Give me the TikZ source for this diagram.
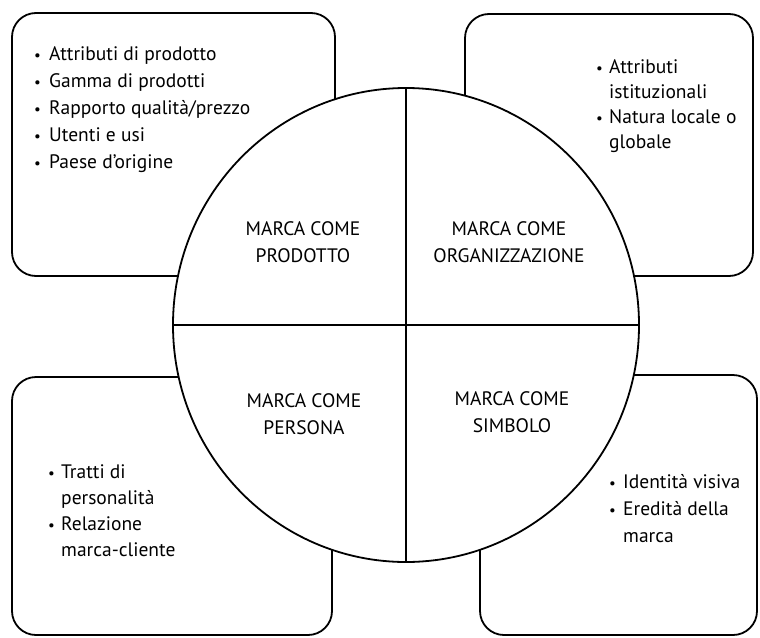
\documentclass[tikz,border=0pt]{standalone}
\usepackage{fontspec}
\setmainfont{PT Sans}
\usetikzlibrary{shapes.geometric}
\begin{document}
\begin{tikzpicture}[x=1pt,y=-1pt,
  box/.style={draw, line width=1.8pt, rounded corners=24pt, inner sep=0pt, outer sep=0pt},
  disc/.style={draw, line width=1.8pt, ellipse, fill=white, inner sep=0pt},
  divider/.style={line width=1.8pt},
  quad/.style={inner sep=0pt, anchor=base, font=\fontsize{19.5}{27}\selectfont},
  list/.style={inner sep=0pt, anchor=base west, font=\fontsize{19.5}{27}\selectfont},
  dot/.style={inner sep=0pt, anchor=base west, font=\fontsize{15}{15}\selectfont}
]
\useasboundingbox (0,0) rectangle (760,637);
% outer boxes
\node[box, minimum width=323pt, minimum height=263pt] (tl) at (173.5,144.5) {};
\node[box, minimum width=288pt, minimum height=262pt] (tr) at (609,145) {};
\node[box, minimum width=320pt, minimum height=258pt] (bl) at (172,506) {};
\node[box, minimum width=277pt, minimum height=260pt] (br) at (618.5,505) {};
% circle
\node[disc, minimum width=466pt, minimum height=474pt] (c) at (406,325) {};
\draw[divider] (c.north) -- (c.south);
\draw[divider] (c.west) -- (c.east);
% quadrant labels
\node[quad] (qp) at (303,235) {\begin{tabular}[t]{@{}c@{}}MARCA COME\\PRODOTTO\end{tabular}};
\node[quad] (qo) at (509,235) {\begin{tabular}[t]{@{}c@{}}MARCA COME\\ORGANIZZAZIONE\end{tabular}};
\node[quad] (qpe) at (304,407) {\begin{tabular}[t]{@{}c@{}}MARCA COME\\PERSONA\end{tabular}};
\node[quad] (qs) at (512,405) {\begin{tabular}[t]{@{}c@{}}MARCA COME\\SIMBOLO\end{tabular}};
% top-left list
\node[list] (ltl) at (49,60) {\begin{tabular}[t]{@{}l@{}}
Attributi di prodotto\\
Gamma di prodotti\\
Rapporto qualità/prezzo\\
Utenti e usi\\
Paese d’origine
\end{tabular}};
\foreach \i in {0,...,4} \node[dot] (dtl\i) at (34,{60+27*\i}) {•};
% top-right list
\node[list, font=\fontsize{19.5}{25}\selectfont] (ltr) at (609,73) {\begin{tabular}[t]{@{}l@{}}
Attributi\\
istituzionali\\
Natura locale o\\
globale
\end{tabular}};
\node[dot] (dtr0) at (596,73) {•};
\node[dot] (dtr1) at (596,123) {•};
% bottom-left list
\node[list, font=\fontsize{19.5}{26.3}\selectfont] (lbl) at (61,478) {\begin{tabular}[t]{@{}l@{}}
Tratti di\\
personalità\\
Relazione\\
marca-cliente
\end{tabular}};
\node[dot] (dbl0) at (48,478) {•};
\node[dot] (dbl1) at (48,530.6) {•};
% bottom-right list
\node[list] (lbr) at (623,488) {\begin{tabular}[t]{@{}l@{}}
Identità visiva\\
Eredità della\\
marca
\end{tabular}};
\node[dot] (dbr0) at (609,488) {•};
\node[dot] (dbr1) at (609,515) {•};
\end{tikzpicture}
\end{document}
